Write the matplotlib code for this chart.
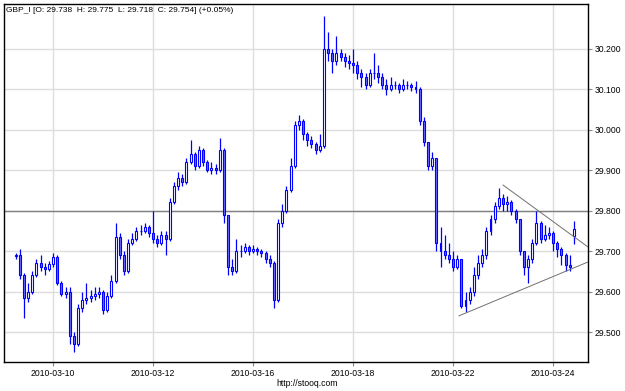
import numpy as np
import matplotlib
matplotlib.use("Agg")
import matplotlib.pyplot as plt

plt.rcParams['font.family'] = ['Liberation Sans', 'DejaVu Sans']

# trading days shown on the axis (weekends skipped)
days = ["2010-03-09", "2010-03-10", "2010-03-11", "2010-03-12", "2010-03-15",
        "2010-03-16", "2010-03-17", "2010-03-18", "2010-03-19", "2010-03-22",
        "2010-03-23", "2010-03-24"]
tick_days = ["2010-03-10", "2010-03-12", "2010-03-16", "2010-03-18", "2010-03-22", "2010-03-24"]

# 2-hour bars, 12 per day, first bar at 06:00 on 03-09
bars_per_day = 12
first_bar = 0.25

opens = [29.688, 29.690, 29.640, 29.585, 29.600, 29.640, 29.670, 29.660, 29.655, 29.668, 29.685, 29.620,
         29.595, 29.600, 29.490, 29.470, 29.560, 29.580, 29.585, 29.590, 29.595, 29.600, 29.555, 29.590,
         29.625, 29.735, 29.690, 29.650, 29.720, 29.730, 29.750, 29.750, 29.760, 29.745, 29.730, 29.720,
         29.740, 29.730, 29.820, 29.860, 29.880, 29.870, 29.920, 29.940, 29.910, 29.950, 29.920, 29.900,
         29.905, 29.900, 29.950, 29.790, 29.660, 29.650, 29.700, 29.700, 29.710, 29.700, 29.705, 29.700,
         29.695, 29.680, 29.670, 29.580, 29.770, 29.800, 29.850, 29.910, 30.010, 30.020, 29.990, 29.975,
         29.965, 29.950, 29.960, 30.200, 30.190, 30.170, 30.190, 30.180, 30.170, 30.165, 30.160, 30.140,
         30.130, 30.110, 30.140, 30.140, 30.130, 30.110, 30.100, 30.110, 30.110, 30.100, 30.110, 30.110,
         30.105, 30.100, 30.020, 29.970, 29.910, 29.930, 29.720, 29.700, 29.690, 29.680, 29.660, 29.680,
         29.565, 29.580, 29.600, 29.640, 29.670, 29.690, 29.750, 29.780, 29.810, 29.830, 29.815, 29.820,
         29.800, 29.780, 29.700, 29.660, 29.680, 29.720, 29.770, 29.730, 29.740, 29.745, 29.720, 29.705,
         29.690, 29.665, 29.738]
highs = [29.695, 29.705, 29.645, 29.620, 29.650, 29.680, 29.690, 29.670, 29.675, 29.695, 29.690, 29.625,
         29.610, 29.610, 29.500, 29.570, 29.600, 29.620, 29.605, 29.610, 29.610, 29.605, 29.600, 29.640,
         29.770, 29.745, 29.700, 29.730, 29.745, 29.760, 29.765, 29.770, 29.765, 29.800, 29.740, 29.750,
         29.750, 29.830, 29.870, 29.895, 29.890, 29.930, 29.975, 29.945, 29.960, 29.955, 29.925, 29.920,
         29.915, 29.980, 29.955, 29.790, 29.680, 29.730, 29.715, 29.720, 29.715, 29.715, 29.710, 29.705,
         29.700, 29.690, 29.675, 29.780, 29.815, 29.860, 29.930, 30.020, 30.035, 30.025, 29.995, 29.985,
         29.970, 29.990, 30.280, 30.240, 30.200, 30.230, 30.200, 30.190, 30.185, 30.200, 30.170, 30.150,
         30.140, 30.150, 30.190, 30.160, 30.140, 30.125, 30.130, 30.120, 30.115, 30.125, 30.120, 30.115,
         30.120, 30.105, 30.030, 29.960, 29.945, 29.930, 29.760, 29.740, 29.720, 29.700, 29.690, 29.680,
         29.600, 29.610, 29.660, 29.690, 29.705, 29.760, 29.790, 29.820, 29.855, 29.840, 29.835, 29.825,
         29.805, 29.780, 29.700, 29.690, 29.730, 29.800, 29.775, 29.765, 29.760, 29.750, 29.725, 29.710,
         29.695, 29.690, 29.775]
lows = [29.680, 29.630, 29.535, 29.575, 29.595, 29.635, 29.650, 29.640, 29.650, 29.660, 29.615, 29.590,
        29.585, 29.470, 29.450, 29.465, 29.550, 29.570, 29.575, 29.580, 29.585, 29.545, 29.550, 29.585,
        29.620, 29.680, 29.640, 29.645, 29.715, 29.725, 29.740, 29.745, 29.735, 29.720, 29.710, 29.715,
        29.690, 29.725, 29.815, 29.850, 29.860, 29.865, 29.915, 29.900, 29.905, 29.910, 29.895, 29.890,
        29.890, 29.895, 29.770, 29.640, 29.640, 29.645, 29.685, 29.695, 29.690, 29.695, 29.690, 29.685,
        29.670, 29.660, 29.560, 29.575, 29.760, 29.795, 29.845, 29.905, 30.000, 29.975, 29.960, 29.955,
        29.940, 29.945, 29.955, 30.170, 30.140, 30.160, 30.170, 30.155, 30.150, 30.140, 30.125, 30.105,
        30.100, 30.105, 30.125, 30.115, 30.100, 30.085, 30.095, 30.100, 30.090, 30.095, 30.100, 30.095,
        30.090, 30.010, 29.960, 29.900, 29.900, 29.700, 29.660, 29.680, 29.670, 29.650, 29.655, 29.560,
        29.550, 29.570, 29.590, 29.630, 29.660, 29.680, 29.740, 29.770, 29.805, 29.800, 29.800, 29.790,
        29.770, 29.690, 29.640, 29.620, 29.670, 29.715, 29.720, 29.725, 29.730, 29.700, 29.685, 29.665,
        29.650, 29.650, 29.718]
closes = [29.690, 29.640, 29.585, 29.600, 29.640, 29.670, 29.660, 29.655, 29.668, 29.685, 29.620, 29.595,
          29.600, 29.490, 29.470, 29.560, 29.580, 29.585, 29.590, 29.595, 29.600, 29.555, 29.590, 29.625,
          29.735, 29.690, 29.650, 29.720, 29.730, 29.750, 29.750, 29.760, 29.745, 29.730, 29.720, 29.740,
          29.730, 29.820, 29.860, 29.880, 29.870, 29.920, 29.940, 29.910, 29.950, 29.920, 29.900, 29.905,
          29.900, 29.950, 29.790, 29.660, 29.650, 29.700, 29.700, 29.710, 29.700, 29.705, 29.700, 29.695,
          29.680, 29.670, 29.580, 29.770, 29.800, 29.850, 29.910, 30.010, 30.020, 29.990, 29.975, 29.965,
          29.950, 29.960, 30.200, 30.190, 30.170, 30.190, 30.180, 30.170, 30.165, 30.160, 30.140, 30.130,
          30.110, 30.140, 30.140, 30.130, 30.110, 30.100, 30.110, 30.110, 30.100, 30.110, 30.110, 30.105,
          30.100, 30.020, 29.970, 29.910, 29.930, 29.720, 29.700, 29.690, 29.680, 29.660, 29.680, 29.565,
          29.580, 29.600, 29.640, 29.670, 29.690, 29.750, 29.780, 29.810, 29.830, 29.815, 29.820, 29.800,
          29.780, 29.700, 29.660, 29.680, 29.720, 29.770, 29.730, 29.740, 29.745, 29.720, 29.705, 29.690,
          29.665, 29.660, 29.754]

# hand-drawn lines: triangle + level
upper_x, upper_y = [10.0, 11.7], [29.863, 29.710]
lower_x, lower_y = [9.12, 11.7], [29.540, 29.673]
level = 29.800

title = "GBP_I [O: 29.738  H: 29.775  L: 29.718  C: 29.754] (+0.05%)"

o = np.array(opens); h = np.array(highs); l = np.array(lows); c = np.array(closes)
x = first_bar + np.arange(len(c)) / bars_per_day

fig = plt.figure(figsize=(6.25, 3.91), dpi=100)
ax = fig.add_axes([4 / 625, 1 - 362 / 391, 584 / 625, 358 / 391])

ax.grid(True, color='#dddddd', lw=1)
ax.set_axisbelow(True)
ax.axhline(level, color='#808080', lw=1, zorder=1)

blue = '#0000ff'
ax.vlines(x, l, h, color=blue, lw=0.9, zorder=3)
up = c >= o
bw = 0.04
ax.bar(x[up], c[up] - o[up], bottom=o[up], width=bw, facecolor='white',
       edgecolor=blue, lw=0.8, zorder=4)
ax.bar(x[~up], o[~up] - c[~up], bottom=c[~up], width=bw, facecolor='#6a6aff',
       edgecolor=blue, lw=0.8, zorder=4)

ax.plot(upper_x, upper_y, color='#707070', lw=0.7, zorder=5)
ax.plot(lower_x, lower_y, color='#707070', lw=0.7, zorder=5)

ax.set_xlim(0.02, 11.7)
ax.set_ylim(29.426, 30.310)
ax.set_xticks([days.index(d) for d in tick_days])
ax.set_xticklabels(tick_days, fontsize=6.2)
ax.set_yticks(np.arange(29.5, 30.21, 0.1))
ax.set_yticklabels(["%.3f" % v for v in np.arange(29.5, 30.21, 0.1)], fontsize=6.2)
ax.yaxis.tick_right()
ax.tick_params(axis='both', length=3, width=0.8, color='#888888', pad=2)
for s in ax.spines.values():
    s.set_color('black')
    s.set_linewidth(1)

ax.text(0.004, 0.993, title, transform=ax.transAxes, fontsize=6.0, va='top', ha='left')
fig.text(307 / 625, 1 - 383 / 391, "http://stooq.com", fontsize=6.2, ha='center', va='center')

fig.savefig("out.png", dpi=100)
